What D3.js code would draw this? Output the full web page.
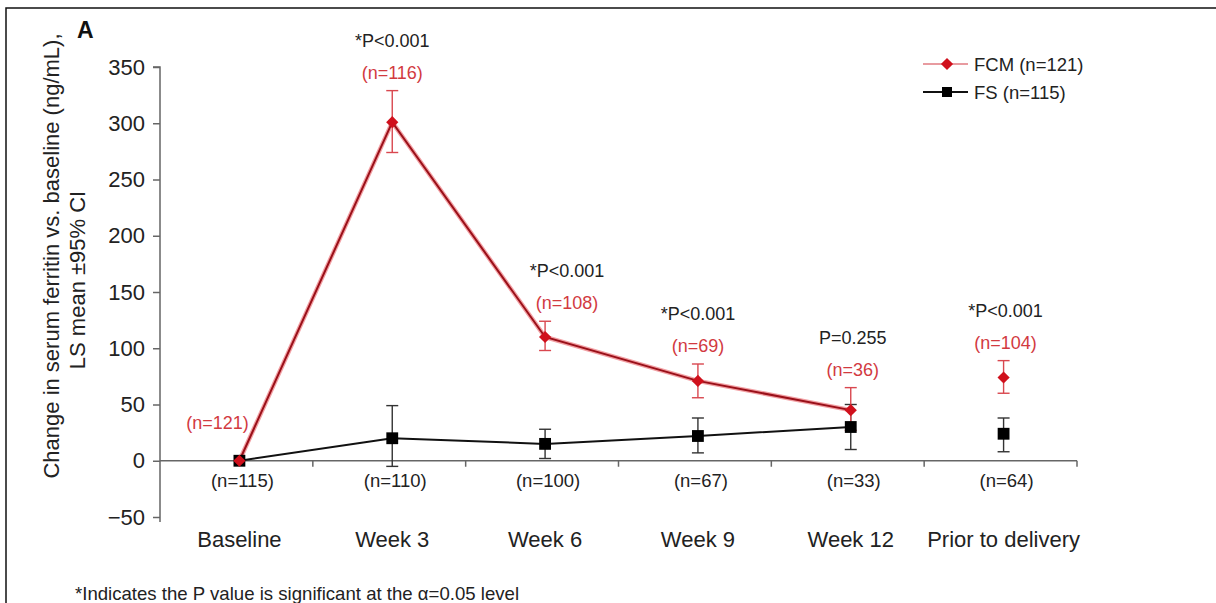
<!DOCTYPE html>
<html>
<head>
<meta charset="utf-8">
<script src="https://cdn.jsdelivr.net/npm/d3@7"></script>
<style>
  html, body { margin: 0; padding: 0; background: #fff; }
  svg { display: block; }
  text { font-family: "Liberation Sans", Arial, Helvetica, sans-serif; }
</style>
</head>
<body>
<svg id="chart" width="1216" height="603"></svg>
<script>
// ---- data ----
const categories = ["Baseline", "Week 3", "Week 6", "Week 9", "Week 12", "Prior to delivery"];
const fcmMean  = [0, 301, 110, 71, 45, 74];
const fcmLower = [0, 274, 98, 56, 27, 60];
const fcmUpper = [0, 329, 124, 86, 65, 89];
const fsMean   = [0, 20, 15, 22, 30, 24];
const fsLower  = [0, -5, 2, 7, 10, 8];
const fsUpper  = [0, 49, 28, 38, 50, 38];
const pLabels  = ["", "*P<0.001", "*P<0.001", "*P<0.001", "P=0.255", "*P<0.001"];
const fcmN     = ["(n=121)", "(n=116)", "(n=108)", "(n=69)", "(n=36)", "(n=104)"];
const fsN      = ["(n=115)", "(n=110)", "(n=100)", "(n=67)", "(n=33)", "(n=64)"];
const yTicks   = [-50, 0, 50, 100, 150, 200, 250, 300, 350];
const legendLabels = ["FCM (n=121)", "FS (n=115)"];
const connected = 5; // first five timepoints are joined by lines

// ---- layout ----
const RED = "#d0101c";
const RED_LIGHT = "#d9474f";
const BLACK = "#111";
const TEXT = "#222";

const svg = d3.select("#chart");

// frame
svg.append("rect").attr("x", 6).attr("y", 8).attr("width", 1240).attr("height", 640)
  .attr("fill", "none").attr("stroke", "#111").attr("stroke-width", 1.5);

const x = d3.scaleBand().domain(categories).range([160, 1077]).padding(0);
const y = d3.scaleLinear().domain([-50, 350]).range([517, 67]);
const cx = c => x(c) + x.bandwidth() / 2 + 3;

// y axis
const yAxis = svg.append("g").attr("transform", "translate(160,0)")
  .call(d3.axisLeft(y).tickValues(yTicks).tickSize(7).tickPadding(8)
    .tickFormat(d => d < 0 ? "\u2212" + Math.abs(d) : d));
yAxis.select(".domain").attr("stroke", "#666").attr("stroke-width", 1.5)
  .attr("d", `M-7,${y(350)}H0V${y(-50) + 5}`);
yAxis.selectAll(".tick line").attr("stroke", "#666").attr("stroke-width", 1.5);
yAxis.selectAll(".tick text").attr("font-size", 22).attr("fill", TEXT)
  .attr("font-family", "Liberation Sans, Arial, sans-serif");

// x axis at zero (ticks at category boundaries)
const boundaries = categories.map(c => x(c) + x.bandwidth());
svg.append("line").attr("x1", 160).attr("x2", x.range()[1])
  .attr("y1", y(0)).attr("y2", y(0)).attr("stroke", "#666").attr("stroke-width", 1.5);
svg.selectAll(".xtick").data(boundaries).join("line")
  .attr("x1", d => d).attr("x2", d => d)
  .attr("y1", y(0)).attr("y2", y(0) + 6)
  .attr("stroke", "#666").attr("stroke-width", 1.5);

// category labels
svg.selectAll(".cat").data(categories).join("text")
  .attr("x", c => cx(c)).attr("y", 547)
  .attr("text-anchor", "middle").attr("font-size", 22).attr("fill", TEXT)
  .text(c => c);

// FS n labels under axis
svg.selectAll(".fsn").data(categories).join("text")
  .attr("x", (c, i) => cx(c) + 3).attr("y", 487)
  .attr("text-anchor", "middle").attr("font-size", 18.5).attr("fill", TEXT)
  .text((c, i) => fsN[i]);

// y axis title
const title = svg.append("g");
title.append("text")
  .attr("transform", "translate(51,256) rotate(-90)")
  .attr("text-anchor", "middle").attr("dominant-baseline", "central")
  .attr("font-size", 22).attr("fill", TEXT)
  .text("Change in serum ferritin vs. baseline (ng/mL),");
title.append("text")
  .attr("transform", "translate(77,280) rotate(-90)")
  .attr("text-anchor", "middle").attr("dominant-baseline", "central")
  .attr("font-size", 22).attr("fill", TEXT)
  .text("LS mean \u00B195% CI");

// panel letter
svg.append("text").attr("x", 77).attr("y", 38).attr("font-size", 23)
  .attr("font-weight", "bold").attr("fill", "#111").text("A");

// ---- series ----
const line = d3.line().x(d => d.x).y(d => d.y);
function pts(vals) {
  return categories.slice(0, connected).map((c, i) => ({ x: cx(c), y: y(vals[i]) }));
}

// error bars
function errorBars(lower, upper, color, width, cls) {
  const g = svg.append("g").attr("class", cls);
  categories.forEach((c, i) => {
    if (upper[i] === lower[i]) return;
    const xx = cx(c);
    g.append("line").attr("x1", xx).attr("x2", xx).attr("y1", y(lower[i])).attr("y2", y(upper[i]))
      .attr("stroke", color).attr("stroke-width", width);
    [lower[i], upper[i]].forEach(v => {
      g.append("line").attr("x1", xx - 6).attr("x2", xx + 6).attr("y1", y(v)).attr("y2", y(v))
        .attr("stroke", color).attr("stroke-width", width);
    });
  });
}

// FS line + bars
errorBars(fsLower, fsUpper, "#333", 1.4, "fs-err");
svg.append("path").datum(pts(fsMean)).attr("d", line)
  .attr("fill", "none").attr("stroke", BLACK).attr("stroke-width", 2);

// FCM line + bars
errorBars(fcmLower, fcmUpper, RED_LIGHT, 1.4, "fcm-err");
svg.append("path").datum(pts(fcmMean)).attr("d", line)
  .attr("fill", "none").attr("stroke", "#f2a0a4").attr("stroke-width", 4.5);
svg.append("path").datum(pts(fcmMean)).attr("d", line)
  .attr("fill", "none").attr("stroke", "#9a1019").attr("stroke-width", 2);

// markers
const diamond = d3.symbol().type(d3.symbolDiamond2).size(95);
const square = d3.symbol().type(d3.symbolSquare).size(140);

svg.selectAll(".fs-m").data(categories).join("path")
  .attr("transform", (c, i) => `translate(${cx(c)},${y(fsMean[i])})`)
  .attr("d", square).attr("fill", "#000");
svg.selectAll(".fcm-m").data(categories).join("path")
  .attr("transform", (c, i) => `translate(${cx(c)},${y(fcmMean[i])})`)
  .attr("d", diamond).attr("fill", RED);

// annotations above FCM points
const annotDx = [0, 0, 22, 0, 2, 2];
svg.selectAll(".pl").data(categories).join("text")
  .attr("x", (c, i) => cx(c) + annotDx[i]).attr("y", (c, i) => y(fcmUpper[i]) - 50)
  .attr("text-anchor", "middle").attr("dominant-baseline", "central")
  .attr("font-size", 18).attr("fill", TEXT)
  .text((c, i) => pLabels[i]);
svg.selectAll(".fn").data(categories).join("text")
  .attr("x", (c, i) => i === 0 ? cx(c) - 22 : cx(c) + annotDx[i])
  .attr("y", (c, i) => i === 0 ? y(fcmMean[i]) - 38 : y(fcmUpper[i]) - 18)
  .attr("text-anchor", "middle").attr("dominant-baseline", "central")
  .attr("font-size", 18).attr("fill", "#d23a3f")
  .text((c, i) => fcmN[i]);

// legend
const lg = svg.append("g");
[0, 1].forEach(k => {
  const ly = 64 + k * 28;
  lg.append("line").attr("x1", 923).attr("x2", 968).attr("y1", ly).attr("y2", ly)
    .attr("stroke", k === 0 ? "#e07a80" : BLACK).attr("stroke-width", k === 0 ? 1.5 : 2);
  lg.append("path").attr("transform", `translate(947,${ly})`)
    .attr("d", k === 0 ? diamond : d3.symbol().type(d3.symbolSquare).size(100))
    .attr("fill", k === 0 ? RED : "#000");
  lg.append("text").attr("x", 974).attr("y", ly).attr("dominant-baseline", "central")
    .attr("font-size", 18.5).attr("fill", TEXT).text(legendLabels[k]);
});

// footnote
svg.append("text").attr("x", 75).attr("y", 593).attr("dominant-baseline", "central")
  .attr("font-size", 18.6).attr("fill", TEXT)
  .text("*Indicates the P value is significant at the \u03B1=0.05 level");
</script>
</body>
</html>
